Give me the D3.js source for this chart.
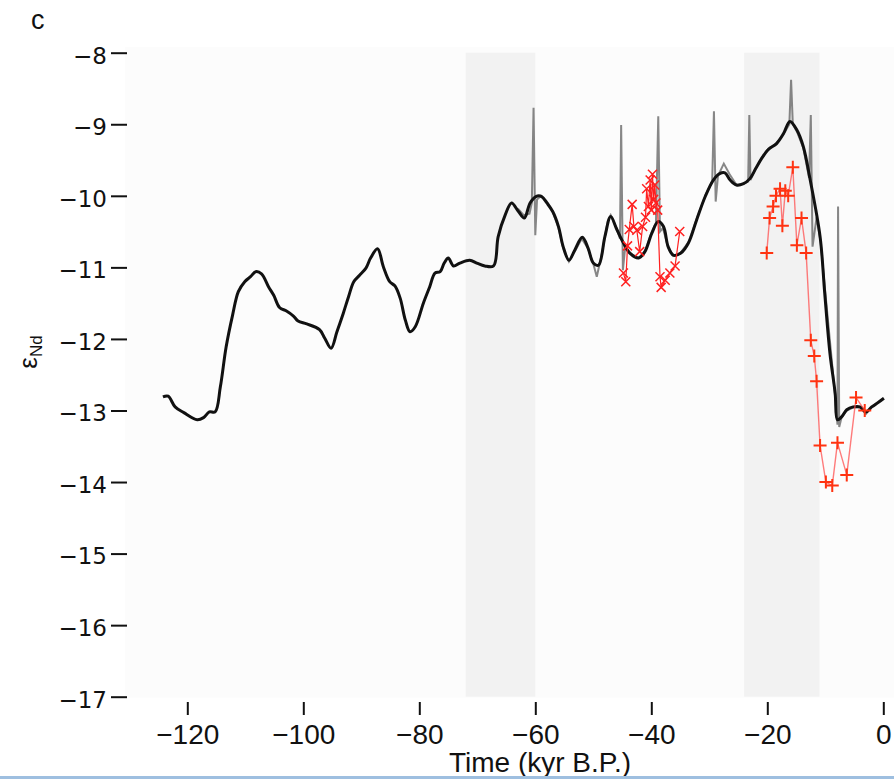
<!DOCTYPE html>
<html>
<head>
<meta charset="utf-8">
<script src="https://cdn.jsdelivr.net/npm/d3@7"></script>
<style>
  body { margin: 0; background: #fff; }
  svg { display: block; }
</style>
</head>
<body>
<svg id="drawing_region"></svg>
<script>
// smoothed record (time kyr, eNd)
const smoothLine = [
  [-124.2,-12.81],[-123.3,-12.80],[-122.1,-12.95],[-120.6,-13.03],[-118.3,-13.13],
  [-117.2,-13.10],[-116.2,-13.02],[-115.2,-13.02],[-114.3,-12.67],[-113.3,-12.11],
  [-112.2,-11.67],[-111.2,-11.34],[-110.1,-11.20],[-109.1,-11.13],[-108.2,-11.06],
  [-107.2,-11.09],[-106.0,-11.27],[-105.1,-11.39],[-104.1,-11.56],[-102.9,-11.61],
  [-101.7,-11.68],[-100.9,-11.75],[-99.4,-11.79],[-97.2,-11.87],[-96.3,-11.99],
  [-95.2,-12.13],[-94.2,-11.90],[-93.1,-11.64],[-92.2,-11.41],[-91.3,-11.20],
  [-90.3,-11.11],[-89.2,-11.01],[-88.4,-10.87],[-87.2,-10.74],[-86.2,-10.99],
  [-85.1,-11.20],[-84.2,-11.26],[-83.3,-11.43],[-82.4,-11.74],[-81.6,-11.90],
  [-80.7,-11.83],[-79.3,-11.50],[-78.2,-11.27],[-77.3,-11.08],[-76.4,-11.06],
  [-75.7,-10.94],[-75.0,-10.87],[-74.1,-10.98],[-73.0,-10.94],[-71.3,-10.90],
  [-70.1,-10.94],[-68.7,-10.98],[-67.2,-10.98],[-66.4,-10.57],[-65.2,-10.27],
  [-64.1,-10.10],[-62.9,-10.22],[-61.9,-10.31],[-60.9,-10.10],[-59.9,-10.01],
  [-58.9,-10.01],[-58.0,-10.10],[-57.0,-10.22],[-56.0,-10.43],[-55.2,-10.71],
  [-54.2,-10.90],[-53.2,-10.76],[-51.9,-10.58],[-50.9,-10.73],[-50.0,-10.94],
  [-49.1,-10.97],[-48.0,-10.57],[-47.0,-10.29],[-46.0,-10.46],[-44.8,-10.66],
  [-43.7,-10.80],[-42.2,-10.87],[-41.1,-10.78],[-39.9,-10.52],[-38.8,-10.36],
  [-37.9,-10.43],[-37.1,-10.71],[-36.2,-10.83],[-34.9,-10.80],[-33.6,-10.66],
  [-32.2,-10.34],[-30.7,-10.01],[-29.3,-9.78],[-28.2,-9.69],[-27.3,-9.68],
  [-26.4,-9.78],[-25.3,-9.85],[-24.1,-9.83],[-23.0,-9.76],[-22.0,-9.62],
  [-21.0,-9.48],[-19.8,-9.35],[-18.4,-9.27],[-17.2,-9.13],[-16.1,-8.96],
  [-14.9,-9.08],[-13.8,-9.31],[-12.6,-9.78],[-10.9,-10.57],[-10.1,-11.36],
  [-9.2,-12.20],[-8.3,-12.76],[-7.9,-13.13],[-7.2,-13.09],[-6.3,-12.99],
  [-5.2,-12.95],[-4.0,-12.95],[-3.0,-13.02],[-2.0,-12.95],[-0.9,-12.89],[0.1,-12.83]
];

// raw record with spikes
const rawLine = [
  [-63,-10.18],[-62,-10.27],[-61,-10.25],[-60.6,-10.10],[-60.3,-8.77],[-60.0,-10.55],
  [-59.7,-10.05],[-59,-10.00],[-58,-10.08],[-57,-10.22],[-56,-10.45],[-55.2,-10.73],
  [-54.2,-10.92],[-53.2,-10.78],[-52,-10.60],[-51,-10.72],[-50,-10.95],[-49.4,-11.13],
  [-48.5,-10.80],[-47.5,-10.35],[-47,-10.27],[-46,-10.45],[-45.4,-10.60],[-45.2,-9.01],
  [-44.9,-11.04],[-44.5,-10.72],[-43.7,-10.80],[-42.2,-10.87],[-41.1,-10.78],[-40,-10.52],
  [-39.2,-10.38],[-38.8,-8.89],[-38.5,-10.50],[-38,-10.45],[-37.1,-10.72],[-36.2,-10.84],
  [-35,-10.80],[-33.6,-10.65],[-32.2,-10.33],[-30.7,-10.00],[-29.5,-9.80],[-29.2,-8.82],
  [-28.9,-10.08],[-28.5,-9.72],[-27.5,-9.55],[-26.5,-9.70],[-25.3,-9.85],[-24.1,-9.83],
  [-23.3,-9.80],[-23.1,-8.87],[-22.9,-9.78],[-22,-9.62],[-21,-9.48],[-20,-9.36],
  [-18.5,-9.27],[-17.2,-9.14],[-16.2,-9.00],[-15.9,-8.38],[-15.6,-9.00],[-14.9,-9.10],
  [-13.8,-9.33],[-12.8,-9.75],[-12.5,-8.87],[-12.2,-10.71],[-11.5,-10.30],[-10.8,-10.65],
  [-10,-11.35],[-9,-12.2],[-8.2,-12.9],[-7.9,-13.2],[-7.8,-10.15],[-7.6,-13.23],
  [-7.2,-13.10],[-6.3,-13.0],[-5.2,-12.96],[-4,-12.96],[-3,-13.05],[-2,-12.95],
  [-0.9,-12.88],[0.1,-12.83]
];

// red core data, cross markers
const redCross = [
  [-44.8,-11.08],[-44.4,-11.20],[-44.1,-10.70],[-43.8,-10.47],[-43.3,-10.12],
  [-43.0,-10.43],[-42.5,-10.48],[-42.0,-10.78],[-41.5,-10.43],[-41.0,-10.30],
  [-40.8,-9.90],[-40.5,-10.15],[-40.2,-9.78],[-40.0,-10.20],[-39.8,-9.70],
  [-39.6,-10.05],[-39.4,-9.85],[-39.2,-10.10],[-38.9,-10.20],[-38.5,-11.13],
  [-38.3,-11.28],[-37.6,-11.18],[-36.8,-11.08],[-35.9,-10.98],[-35.1,-10.50]
];

// red core data, plus markers
const redPlus = [
  [-20.1,-10.80],[-19.6,-10.31],[-19.0,-10.15],[-18.5,-10.00],[-17.8,-9.90],
  [-17.4,-10.42],[-16.9,-9.93],[-16.4,-10.00],[-15.6,-9.60],[-14.9,-10.69],
  [-14.1,-10.31],[-13.3,-10.80],[-12.5,-12.02],[-11.9,-12.24],[-11.5,-12.59],
  [-10.9,-13.49],[-9.9,-14.00],[-8.8,-14.05],[-7.9,-13.45],[-6.3,-13.90],
  [-4.7,-12.82],[-3.2,-13.00]
];

const bands = [[-72, -60], [-24, -11]];
const xTicks = [-120, -100, -80, -60, -40, -20, 0];
const yTicks = [-8, -9, -10, -11, -12, -13, -14, -15, -16, -17];

const width = 894, height = 779;

const svg = d3.select('#drawing_region')
    .attr('width', width)
    .attr('height', height);

const xscale = d3.scaleLinear().domain([-120, 0]).range([187.3, 883.3]);
const yscale = d3.scaleLinear().domain([-8, -17]).range([52.7, 696.7]);

// plot background
svg.append('rect')
    .attr('x', 125).attr('y', 47)
    .attr('width', width - 125).attr('height', yscale(-17) + 1 - 47)
    .attr('fill', '#fcfcfc');

svg.selectAll('.band')
    .data(bands)
    .enter()
    .append('rect')
    .attr('class', 'band')
    .attr('x', d => xscale(d[0]))
    .attr('width', d => xscale(d[1]) - xscale(d[0]))
    .attr('y', yscale(-8))
    .attr('height', yscale(-17) - yscale(-8))
    .attr('fill', '#f2f2f2');

const line = d3.line()
    .x(d => xscale(d[0]))
    .y(d => yscale(d[1]));

svg.append('path')
    .datum(rawLine)
    .attr('d', line)
    .attr('fill', 'none')
    .attr('stroke', '#555')
    .attr('stroke-opacity', 0.7)
    .attr('stroke-width', 2);

svg.append('path')
    .datum(smoothLine)
    .attr('d', line.curve(d3.curveCatmullRom.alpha(0.5)))
    .attr('fill', 'none')
    .attr('stroke', '#111')
    .attr('stroke-width', 3)
    .attr('stroke-linejoin', 'round');

line.curve(d3.curveLinear);

// cross series
svg.append('path')
    .datum(redCross)
    .attr('d', line)
    .attr('fill', 'none')
    .attr('stroke', '#ff2020')
    .attr('stroke-width', 1.2);

svg.selectAll('.xmark')
    .data(redCross)
    .enter()
    .append('path')
    .attr('class', 'xmark')
    .attr('transform', d => `translate(${xscale(d[0])},${yscale(d[1])})`)
    .attr('d', 'M-4.5,-4.5L4.5,4.5M-4.5,4.5L4.5,-4.5')
    .attr('stroke', '#ff2020')
    .attr('stroke-width', 1.5);

// plus series
svg.append('path')
    .datum(redPlus)
    .attr('d', line)
    .attr('fill', 'none')
    .attr('stroke', '#ff5050')
    .attr('stroke-opacity', 0.75)
    .attr('stroke-width', 1.4);

svg.selectAll('.pmark')
    .data(redPlus)
    .enter()
    .append('path')
    .attr('class', 'pmark')
    .attr('transform', d => `translate(${xscale(d[0])},${yscale(d[1])})`)
    .attr('d', 'M-6.5,0L6.5,0M0,-6.5L0,6.5')
    .attr('stroke', '#ff3311')
    .attr('stroke-width', 2);

// axes
const yaxis = d3.axisLeft(yscale)
    .tickValues(yTicks)
    .tickSize(16)
    .tickPadding(4)
    .tickFormat(d3.format('d'));

const yaxis_group = svg.append('g')
    .attr('transform', 'translate(127,0)')
    .call(yaxis);
yaxis_group.select('.domain').remove();
yaxis_group.selectAll('line').attr('stroke', '#111').attr('stroke-width', 2);
yaxis_group.selectAll('text')
    .attr('dy', '0.45em')
    .attr('font-family', 'DejaVu Sans')
    .attr('font-size', 23)
    .attr('fill', '#111');

const xaxis = d3.axisBottom(xscale)
    .tickValues(xTicks)
    .tickSize(13)
    .tickPadding(9)
    .tickFormat(d3.format('d'));

const xaxis_group = svg.append('g')
    .attr('transform', 'translate(0,702)')
    .call(xaxis);
xaxis_group.select('.domain').remove();
xaxis_group.selectAll('line').attr('stroke', '#111').attr('stroke-width', 2);
xaxis_group.selectAll('text')
    .attr('font-family', 'Liberation Sans, Arial, sans-serif')
    .attr('font-size', 28)
    .attr('fill', '#111');

svg.append('text')
    .attr('x', 540)
    .attr('y', 772)
    .attr('text-anchor', 'middle')
    .attr('font-family', 'Liberation Sans, Arial, sans-serif')
    .attr('font-size', 28)
    .attr('fill', '#111')
    .text('Time (kyr B.P.)');

const ylabel = svg.append('text')
    .attr('transform', 'translate(37,352) rotate(-90)')
    .attr('text-anchor', 'middle')
    .attr('font-family', 'Liberation Sans, Arial, sans-serif')
    .attr('fill', '#111');
ylabel.append('tspan').attr('font-size', 26).text('ε');
ylabel.append('tspan').attr('font-size', 17).attr('dy', 5).text('Nd');

svg.append('text')
    .attr('x', 31)
    .attr('y', 29)
    .attr('font-family', 'Liberation Sans, Arial, sans-serif')
    .attr('font-size', 27)
    .attr('fill', '#111')
    .text('c');

// frame strip at the bottom edge
svg.append('rect')
    .attr('x', 0).attr('y', 776)
    .attr('width', width).attr('height', 3)
    .attr('fill', '#9ebfe0');
</script>
</body>
</html>
